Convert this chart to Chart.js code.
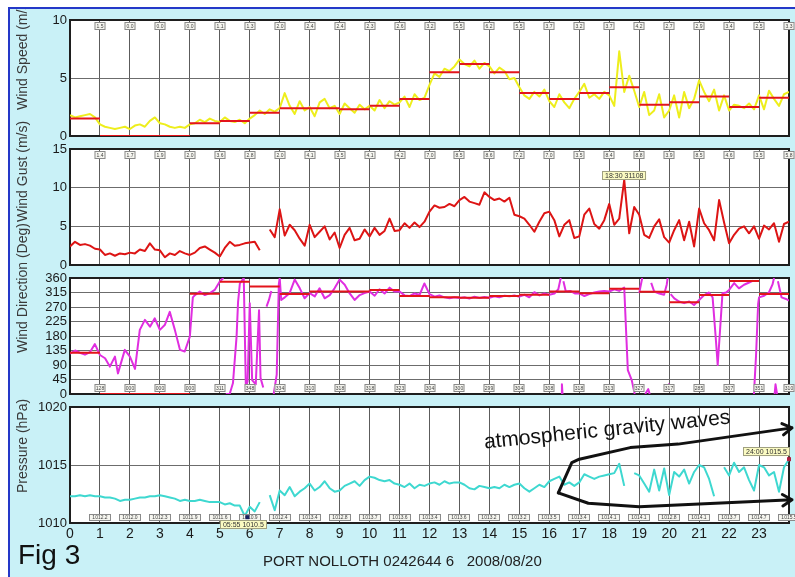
<!DOCTYPE html>
<html>
<head>
<meta charset="utf-8">
<title>Port Nolloth 2008/08/20</title>
<script src="https://cdn.jsdelivr.net/npm/chart.js@4.4.1/dist/chart.umd.min.js"></script>
<style>
  html, body { margin: 0; padding: 0; background: #fff; }
  #page { position: relative; width: 795px; height: 577px; overflow: hidden; background: #fff;
          font-family: 'Liberation Sans', Arial, sans-serif; }
  #frame { position: absolute; left: 8px; top: 7px; width: 785px; height: 568px; background: #c9f1f7;
           border-left: 2px solid #2438c8; border-top: 2px solid #2438c8; }
  #clip { position: absolute; left: 0; top: 9px; width: 795px; height: 568px; overflow: hidden; }
  #clip canvas { position: absolute; left: 0; top: -9px; }
  #fig { position: absolute; left: 18px; top: 541px; font-size: 28px; line-height: 28px; color: #111; }
  #caption { position: absolute; left: 263px; top: 553px; font-size: 15px; line-height: 15px; color: #222;
             white-space: pre; }
</style>
</head>
<body>
<div id="page">
  <div id="frame"></div>
  <div id="clip">
    <canvas id="speed" width="795" height="577"></canvas>
    <canvas id="gust" width="795" height="577"></canvas>
    <canvas id="direction" width="795" height="577"></canvas>
    <canvas id="pressure" width="795" height="577"></canvas>
  </div>
  <div id="fig">Fig 3</div>
  <div id="caption">PORT NOLLOTH 0242644 6   2008/08/20</div>
</div>
<script>
// Readings every 10 minutes from 00:00 to 24:00 (145 values), null = no data.
var speedValues = [
  1.8, 1.6, 1.7, 1.8, 1.9, 1.6,
  1.0, 0.8, 0.7, 0.6, 0.7, 0.8,
  0.6, 0.9, 1.0, 0.8, 1.3, 1.6,
  1.1, 1.0, 0.8, 0.7, 0.8, 0.7,
  1.0, 1.1, 1.4, 1.2, 1.5, 1.3,
  1.2, 1.6, 1.3, 1.2, 1.4, 1.1,
  1.5, 1.8, 2.2, 1.9, 2.3, 2.1,
  2.4, 3.7, 2.6, 1.9, 3.0, 2.2,
  2.5, 1.7, 2.9, 3.2, 2.4, 2.6,
  1.9, 2.8, 2.4, 2.0, 2.7, 2.3,
  2.6, 2.2, 3.1, 2.4, 3.0, 2.7,
  2.9, 3.4, 2.5, 3.6, 3.1, 3.3,
  4.4, 5.4, 5.1, 5.8, 5.6, 6.0,
  6.6, 6.2, 6.0, 6.5, 5.8, 6.3,
  6.0, 5.4, 5.9, 5.6, 4.9, 5.0,
  4.2, 3.5, 3.2, 3.8, 3.4, 4.0,
  3.0, 2.5, 3.6, 2.9, 2.4, 3.2,
  3.8, 4.5, 3.3, 3.6, 3.2, 3.8,
  3.5, 2.6, 7.3, 3.8, 5.2, 3.9,
  2.5, 3.8, 1.8, 2.2, 3.6, 1.6,
  2.2, 3.5, 1.6, 3.8, 2.4, 3.2,
  4.8, 3.8, 3.0, 4.0, 2.2, 3.5,
  2.2, 2.7, 2.6, 2.4, 2.8, 2.3,
  3.5, 2.3, 3.9, 3.2, 2.6, 3.6,
  3.8
];
var speedHourly = [1.5, 0.0, 0.0, 0.0, 1.1, 1.3, 2.0, 2.4, 2.4, 2.3, 2.6, 3.2,
                   5.5, 6.2, 5.5, 3.7, 3.2, 3.7, 4.2, 2.7, 2.9, 3.4, 2.5, 3.3];

var gustValues = [
  2.4, 3.0, 2.6, 2.7, 2.5, 2.1,
  2.0, 1.3, 1.5, 1.2, 1.5, 1.4,
  1.6, 1.5, 2.0, 1.8, 2.8, 2.0,
  1.9, 1.0, 1.5, 1.3, 1.8, 1.5,
  1.3, 1.6, 2.2, 2.4, 2.0, 1.6,
  1.1, 2.2, 3.0, 2.5, 2.6, 2.8,
  2.9, 3.0, 1.9, null, 4.6, 3.6,
  7.2, 3.8, 5.2, 4.5, 3.4, 2.5,
  5.2, 3.6, 4.3, 5.0, 3.3, 4.2,
  2.2, 3.9, 4.8, 3.2, 3.4, 4.6,
  3.7, 4.8, 3.9, 4.4, 6.0, 4.4,
  4.5, 5.4, 4.8, 5.5, 4.9, 5.6,
  6.9, 7.7, 7.4, 7.5, 7.9, 7.6,
  8.4, 8.8, 8.2, 8.0, 7.8, 9.4,
  8.8, 8.4, 8.6, 8.2, 8.7, 6.5,
  6.3, 6.0, 5.2, 4.3, 5.6, 6.7,
  6.9, 5.8, 3.7, 5.2, 5.8, 3.5,
  3.7, 6.5, 7.3, 5.3, 4.7, 5.8,
  7.9, 5.2, 6.0, 11.0, 4.1, 7.5,
  6.5, 3.9, 3.5, 5.0, 5.9, 3.6,
  2.9, 4.5, 5.8, 3.2, 5.6, 2.4,
  7.3, 5.4, 4.5, 3.2, 8.4, 5.5,
  2.8, 3.9, 4.7, 5.0, 4.1, 5.0,
  3.4, 5.1, 4.6, 5.4, 3.0, 5.3,
  5.6
];
var gustHourly = [1.4, 1.7, 1.9, 2.0, 3.6, 2.8, 2.0, 4.1, 3.5, 4.1, 4.2, 7.0,
                  8.5, 8.6, 7.2, 7.0, 3.5, 8.4, 8.8, 3.9, 8.5, 4.6, 3.5, 5.8];

// Direction is sampled unevenly so that the wrap-arounds at 360/0 stay broken.
var dirHours = [
  0, 0.17, 0.33, 0.5, 0.67, 0.83,
  1, 1.17, 1.33, 1.5, 1.6, 1.83,
  2, 2.17, 2.33, 2.5, 2.67, 2.83,
  3, 3.17, 3.33, 3.5, 3.67, 3.83,
  4, 4.1, 4.17, 4.33, 4.5, 4.67, 4.83,
  5, 5.12, 5.13, 5.2, 5.33, 5.44, 5.56, 5.61, 5.67, 5.8,
  5.87, 5.93, 6, 6.08, 6.2, 6.31, 6.36, 6.45, 6.5,
  6.56, 6.64, 6.72, 6.75, 6.8, 6.9, 6.97, 7,
  7.05, 7.17, 7.33, 7.5, 7.67, 7.83,
  8, 8.17, 8.33, 8.5, 8.67, 8.83,
  9, 9.17, 9.33, 9.5, 9.67, 9.83,
  10, 10.17, 10.33, 10.5, 10.67, 10.83,
  11, 11.17, 11.33, 11.5, 11.67, 11.83,
  12, 12.17, 12.33, 12.5, 12.67, 12.83,
  13, 13.17, 13.33, 13.5, 13.67, 13.83,
  14, 14.17, 14.33, 14.5, 14.67, 14.83,
  15, 15.17, 15.33, 15.5, 15.67, 15.83,
  16, 16.17, 16.3, 16.38, 16.39, 16.4, 16.42, 16.44, 16.45, 16.47, 16.55, 16.7, 16.85,
  17, 17.17, 17.33, 17.5, 17.67, 17.83,
  18, 18.17, 18.33, 18.5, 18.56, 18.62, 18.75, 18.85, 18.9,
  19, 19.1, 19.15, 19.2, 19.3, 19.35, 19.38, 19.4, 19.5, 19.67, 19.83, 19.92, 19.95,
  19.96, 19.97, 19.99, 20.0, 20.05,
  20.17, 20.33, 20.5, 20.67, 20.83,
  21, 21.17, 21.33, 21.45, 21.55, 21.62, 21.7, 21.78, 21.9,
  22, 22.17, 22.33, 22.5, 22.67, 22.8, 22.82, 22.83, 22.9, 22.97, 23,
  23.17, 23.33, 23.45, 23.5, 23.51, 23.52, 23.55, 23.6, 23.61, 23.63, 23.75, 23.9, 24
];
var dirValues = [
  125, 135, 128, 122, 130, 155,
  121, 111, 85, 116, 64, 137,
  116, 78, 199, 230, 209, 235,
  199, 215, 255, 199, 137, 132,
  178, 300, 307, 318, 307, 313, 323,
  349, 360, null, 0, 0, 34, 178, 286, 343, 360,
  20, 40, 282, 43, 30, 260, 50, 20, null,
  271, 292, 320, null, 0, 60, 340, 360,
  292, 300, 313, 355, 328, 297,
  313, 303, 328, 297, 307, 328,
  355, 339, 313, 292, 307, 313,
  318, 305, 325, 312, 330, 318,
  318, 306, 304, 312, 308, 343,
  310, 302, 306, 300, 297, 300,
  298, 300, 296, 302, 298, 301,
  299, 303, 300, 305, 303, 306,
  302, 308, 300, 316, 306, 312,
  308, 312, 325, 360, null, 0, 30, 0, null, 350, 318, 320, 312,
  312, 304, 310, 315, 318, 320,
  318, 325, 320, 330, 200, 74, 43, 0, null,
  313, 360, null, 0, 15, 0, null, 345, 318, 312, 308, 340, 360,
  null, 30, 20, null, 310,
  297, 287, 282, 287, 276,
  292, 307, 315, 300, 180, 90, 200, 313, 315,
  323, 344, 328, 339, 346, 352, null, 0, 120, 280, 300,
  305, 315, 340, 360, null, 0, 30, 0, null, 350, 300, 295, 290
];
var dirHourly = [128, 0, 0, 0, 311, 348, 334, 310, 318, 318, 323, 304,
                 300, 299, 304, 308, 318, 313, 327, 317, 285, 307, 351, 310];

var pressureValues = [
  1012.3, 1012.3, 1012.4, 1012.3, 1012.4, 1012.3,
  1012.3, 1012.2, 1012.2, 1012.1, 1011.9, 1012.0,
  1012.0, 1012.1, 1012.2, 1012.2, 1012.3, 1012.3,
  1012.4, 1012.3, 1012.2, 1012.1, 1011.9, 1012.0,
  1011.9, 1011.9, 1012.0, 1011.9, 1011.8, 1011.8,
  1011.8, 1011.6, 1011.7, 1011.5, 1011.5, 1010.6,
  1011.4, 1011.0, 1011.8, null, 1012.4, 1011.1,
  1012.8, 1012.4, 1013.1, 1012.3, 1012.7, 1013.0,
  1013.4, 1012.8, 1013.1, 1013.6, 1013.0, 1012.7,
  1012.8, 1013.2, 1013.4, 1013.6, 1013.2, 1013.7,
  1014.0, 1013.9, 1013.7, 1013.6, 1013.7, 1013.4,
  1013.3, 1013.1, 1013.4, 1013.0, 1013.3, 1013.2,
  1013.4, 1013.5, 1013.3, 1013.6, 1013.4, 1013.5,
  1013.5, 1013.3, 1013.0, 1012.9, 1013.2, 1013.1,
  1013.0, 1013.1, 1013.0, 1013.3, 1013.1, 1013.3,
  1013.4, 1013.0, 1012.7, 1013.0, 1013.3, 1013.1,
  1013.6, 1013.8, 1014.0, 1013.3, 1013.5, 1013.2,
  1013.5, 1014.2, 1014.0, 1013.8, 1014.0, 1014.1,
  1014.2, 1014.3, 1015.1, 1013.2, null, 1014.3,
  1014.1, 1013.4, 1012.7, 1014.6, 1012.8, 1014.7,
  1012.4, 1014.4, 1014.0, 1014.6, 1013.4, 1014.4,
  1015.0, 1014.8, 1013.8, 1012.3, null, 1014.8,
  1014.1, 1015.2, 1014.4, 1014.8, 1013.7, 1012.8,
  1015.0, 1014.8, 1014.1, 1014.4, 1012.7, 1014.8,
  1015.5
];
var pressureHourly = [1012.2, 1012.0, 1012.3, 1011.9, 1011.6, 1010.9, 1012.4, 1013.4,
                      1012.8, 1013.7, 1013.6, 1013.4, 1013.6, 1013.2, 1013.2, 1013.5,
                      1013.4, 1014.1, 1014.1, 1012.8, 1014.1, 1013.7, 1014.7, 1015.5];

// Readout boxes: [hour, value, text]
var gustReadouts = [[18.5, 11.0, '18:30 31108']];
var pressureReadouts = [[5.92, 1010.5, '05:55 1010.5'], [24, 1015.5, '24:00 1015.5']];

// Hand-drawn annotation on the pressure panel, in [hour, hPa].
var waveLabel = 'atmospheric gravity waves';
var waveArrowUpper = [[16.3, 1012.6], [16.75, 1015.2], [17.0, 1015.5], [18.7, 1016.5],
                      [20.3, 1016.8], [24.1, 1018.2]];
var waveArrowLower = [[16.3, 1012.6], [17.3, 1011.7], [19.0, 1011.4], [24.1, 1012.0]];


var FONT = "'Liberation Sans', Arial, sans-serif";
var PAGE_W = 795;
var PAGE_H = 577;
var PLOT_LEFT = 70;
var PLOT_RIGHT = 789;
var PANEL_TOP = 20;
var PANEL_HEIGHT = 116;
var PANEL_STEP = 129;
var Y_AXIS_WIDTH = 40;
var HOUR_LABEL_HEIGHT = 20;


function slotPoints(values) {
  var pts = [];
  for (var i = 0; i < values.length; i++) {
    pts.push({x: i / 6, y: values[i]});
  }
  return pts;
}


function pairPoints(hours, values) {
  var pts = [];
  for (var i = 0; i < hours.length; i++) {
    pts.push({x: hours[i], y: values[i]});
  }
  return pts;
}


// One flat segment per hour, broken between hours.
function hourlySteps(means) {
  var pts = [];
  for (var h = 0; h < means.length; h++) {
    pts.push({x: h, y: means[h]});
    pts.push({x: h + 1, y: means[h]});
    pts.push({x: h + 1, y: null});
  }
  return pts;
}


function lineSet(points, color, width) {
  return {
    data: points,
    borderColor: color,
    borderWidth: width,
    pointRadius: 0,
    fill: false,
    spanGaps: false,
  };
}


var Panel = function(canvas, index, spec) {
  this.spec_ = spec;
  this.top_ = PANEL_TOP + index * PANEL_STEP;
  this.chart_ = new Chart(canvas, this.buildConfig_());
};


Panel.prototype.buildConfig_ = function() {
  var spec = this.spec_;
  // The hour labels are clipped to the x scale box, so only the bottom panel
  // gives that box any height.
  var xHeight = spec.showHours ? HOUR_LABEL_HEIGHT : 0;
  return {
    type: 'line',
    data: {datasets: spec.datasets},
    options: {
      responsive: false,
      animation: false,
      devicePixelRatio: 1,
      events: [],
      layout: {
        padding: {
          left: PLOT_LEFT - Y_AXIS_WIDTH,
          right: PAGE_W - PLOT_RIGHT,
          top: this.top_,
          bottom: PAGE_H - this.top_ - PANEL_HEIGHT - xHeight,
        },
      },
      plugins: {legend: {display: false}, tooltip: {enabled: false}},
      elements: {line: {tension: 0, borderJoinStyle: 'round'}},
      scales: {
        x: {
          type: 'linear',
          min: 0,
          max: 24,
          border: {display: false},
          grid: {color: '#5c5c5c', lineWidth: 1, drawTicks: false},
          ticks: {
            display: !!spec.showHours,
            stepSize: 1,
            autoSkip: false,
            maxRotation: 0,
            padding: 3,
            color: '#1a1a1a',
            font: {size: 14, family: FONT},
            callback: function(v) { return v === 24 ? '' : String(v); },
          },
          afterFit: function(scale) { scale.height = xHeight; },
        },
        y: {
          type: 'linear',
          min: spec.min,
          max: spec.max,
          border: {display: false},
          grid: {color: '#6c6c6c', lineWidth: 1, drawTicks: false},
          ticks: {
            stepSize: spec.step,
            autoSkip: false,
            padding: 3,
            color: '#1a1a1a',
            font: {size: 13, family: FONT},
            callback: function(v) { return String(v); },
          },
          afterFit: function(scale) { scale.width = Y_AXIS_WIDTH; },
        },
      },
    },
    plugins: [this.decorPlugin_()],
  };
};


Panel.prototype.decorPlugin_ = function() {
  var spec = this.spec_;
  return {
    id: 'panelDecor',
    beforeDraw: function(chart) {
      var a = chart.chartArea;
      var ctx = chart.ctx;
      ctx.save();
      ctx.fillStyle = '#ffffff';
      ctx.fillRect(a.left, a.top, a.right - a.left, a.bottom - a.top);
      ctx.restore();
    },
    beforeDatasetsDraw: function(chart) {
      var a = chart.chartArea;
      var ctx = chart.ctx;
      ctx.save();
      ctx.strokeStyle = '#1e1e1e';
      ctx.lineWidth = 2;
      ctx.strokeRect(a.left, a.top, a.right - a.left, a.bottom - a.top);
      ctx.restore();
    },
    afterDatasetsDraw: function(chart) {
      if (spec.boxes) {
        drawHourBoxes(chart, spec.boxes);
      }
      var readouts = spec.readouts || [];
      for (var i = 0; i < readouts.length; i++) {
        drawReadout(chart, readouts[i], spec.readoutPlaces[i]);
      }
      if (spec.annotate) {
        drawWaveNote(chart);
      }
    },
    afterDraw: function(chart) {
      var ctx = chart.ctx;
      ctx.save();
      ctx.translate(23, spec.titleBottom);
      ctx.rotate(-Math.PI / 2);
      ctx.font = '14px ' + FONT;
      ctx.fillStyle = '#3a3a3a';
      ctx.textAlign = 'left';
      ctx.textBaseline = 'middle';
      ctx.fillText(spec.title, 0, 0);
      ctx.restore();
    },
  };
};


function drawHourBoxes(chart, boxes) {
  var ctx = chart.ctx;
  var a = chart.chartArea;
  var xs = chart.scales.x;
  ctx.save();
  ctx.font = '5px ' + FONT;
  ctx.textAlign = 'center';
  ctx.textBaseline = 'middle';
  ctx.lineWidth = 1;
  for (var i = 0; i < boxes.labels.length; i++) {
    var cx = Math.round(xs.getPixelForValue(i + 1));
    var x = cx - boxes.width / 2;
    var y = boxes.row === 'top' ? a.top + 2 : a.bottom - 2 - boxes.height;
    ctx.fillStyle = '#f6f6f0';
    ctx.fillRect(x, y, boxes.width, boxes.height);
    ctx.strokeStyle = '#8a8a8a';
    ctx.strokeRect(x + 0.5, y + 0.5, boxes.width - 1, boxes.height - 1);
    ctx.fillStyle = '#444';
    ctx.fillText(boxes.labels[i], cx, y + boxes.height / 2 + 0.5);
  }
  ctx.restore();
}


function drawReadout(chart, readout, place) {
  var ctx = chart.ctx;
  var px = chart.scales.x.getPixelForValue(readout[0]);
  var py = chart.scales.y.getPixelForValue(readout[1]);
  ctx.save();
  ctx.font = '7px ' + FONT;
  var w = Math.round(ctx.measureText(readout[2]).width) + 6;
  var h = 9;
  var bx, by;
  if (place === 'above') {
    bx = px - w / 2;
    by = py - h;
  } else if (place === 'below') {
    bx = px - w / 2 - 4;
    by = py + 3;
  } else {
    bx = px - w + 1;
    by = py - h - 3;
  }
  ctx.fillStyle = '#fbfbc2';
  ctx.fillRect(bx, by, w, h);
  ctx.strokeStyle = '#a0a080';
  ctx.lineWidth = 1;
  ctx.strokeRect(Math.round(bx) + 0.5, Math.round(by) + 0.5, w - 1, h - 1);
  ctx.fillStyle = '#333';
  ctx.textAlign = 'center';
  ctx.textBaseline = 'middle';
  ctx.fillText(readout[2], bx + w / 2, by + h / 2 + 0.5);
  if (place !== 'above') {
    ctx.fillStyle = place === 'below' ? '#1a2060' : '#b02040';
    ctx.fillRect(px - 2, py - 2, 4, 4);
  }
  ctx.restore();
}


function drawArrow(chart, path) {
  var ctx = chart.ctx;
  var xs = chart.scales.x;
  var ys = chart.scales.y;
  var pts = path.map(function(p) {
    return [xs.getPixelForValue(p[0]), ys.getPixelForValue(p[1])];
  });
  ctx.beginPath();
  ctx.moveTo(pts[0][0], pts[0][1]);
  for (var i = 1; i < pts.length; i++) {
    ctx.lineTo(pts[i][0], pts[i][1]);
  }
  var a = pts[pts.length - 2];
  var b = pts[pts.length - 1];
  var ang = Math.atan2(b[1] - a[1], b[0] - a[0]);
  var len = 11;
  ctx.moveTo(b[0] - len * Math.cos(ang - 0.55), b[1] - len * Math.sin(ang - 0.55));
  ctx.lineTo(b[0], b[1]);
  ctx.lineTo(b[0] - len * Math.cos(ang + 0.55), b[1] - len * Math.sin(ang + 0.55));
  ctx.stroke();
}


function drawWaveNote(chart) {
  var ctx = chart.ctx;
  ctx.save();
  ctx.strokeStyle = '#111';
  ctx.lineWidth = 3;
  ctx.lineJoin = 'round';
  ctx.lineCap = 'round';
  drawArrow(chart, waveArrowUpper);
  drawArrow(chart, waveArrowLower);

  var x = chart.scales.x.getPixelForValue(17.93);
  var y = chart.scales.y.getPixelForValue(1018.0);
  ctx.translate(x, y);
  ctx.rotate(-5.8 * Math.PI / 180);
  ctx.font = '21px ' + FONT;
  ctx.fillStyle = '#111';
  ctx.textAlign = 'center';
  ctx.textBaseline = 'middle';
  ctx.fillText(waveLabel, 0, 0);
  ctx.restore();
}


function fixed1(v) { return v.toFixed(1); }
function degrees3(v) { return ('00' + v).slice(-3); }


document.addEventListener('DOMContentLoaded', function() {
  Chart.defaults.font.family = FONT;

  new Panel(document.getElementById('speed'), 0, {
    title: 'Wind Speed (m/s)',
    titleBottom: 110,
    min: 0, max: 10, step: 5,
    datasets: [
      lineSet(hourlySteps(speedHourly), '#e3141b', 2),
      lineSet(slotPoints(speedValues), '#eeee1c', 2),
    ],
    boxes: {labels: speedHourly.map(fixed1), row: 'top', width: 11, height: 8},
  });

  new Panel(document.getElementById('gust'), 1, {
    title: 'Wind Gust (m/s)',
    titleBottom: 222,
    min: 0, max: 15, step: 5,
    datasets: [
      lineSet(slotPoints(gustValues), '#dd1414', 2),
    ],
    boxes: {labels: gustHourly.map(fixed1), row: 'top', width: 11, height: 8},
    readouts: gustReadouts,
    readoutPlaces: ['above'],
  });

  new Panel(document.getElementById('direction'), 2, {
    title: 'Wind Direction (Deg)',
    titleBottom: 353,
    min: 0, max: 360, step: 45,
    datasets: [
      lineSet(hourlySteps(dirHourly), '#e3141b', 2),
      lineSet(pairPoints(dirHours, dirValues), '#e02ee0', 2),
    ],
    boxes: {labels: dirHourly.map(degrees3), row: 'bottom', width: 11, height: 8},
  });

  new Panel(document.getElementById('pressure'), 3, {
    title: 'Pressure (hPa)',
    titleBottom: 493,
    min: 1010, max: 1020, step: 5,
    showHours: true,
    datasets: [
      lineSet(slotPoints(pressureValues), '#3ed8d0', 2),
    ],
    boxes: {labels: pressureHourly.map(fixed1), row: 'bottom', width: 22, height: 7},
    readouts: pressureReadouts,
    readoutPlaces: ['below', 'aboveLeft'],
    annotate: true,
  });
});
</script>
</body>
</html>
